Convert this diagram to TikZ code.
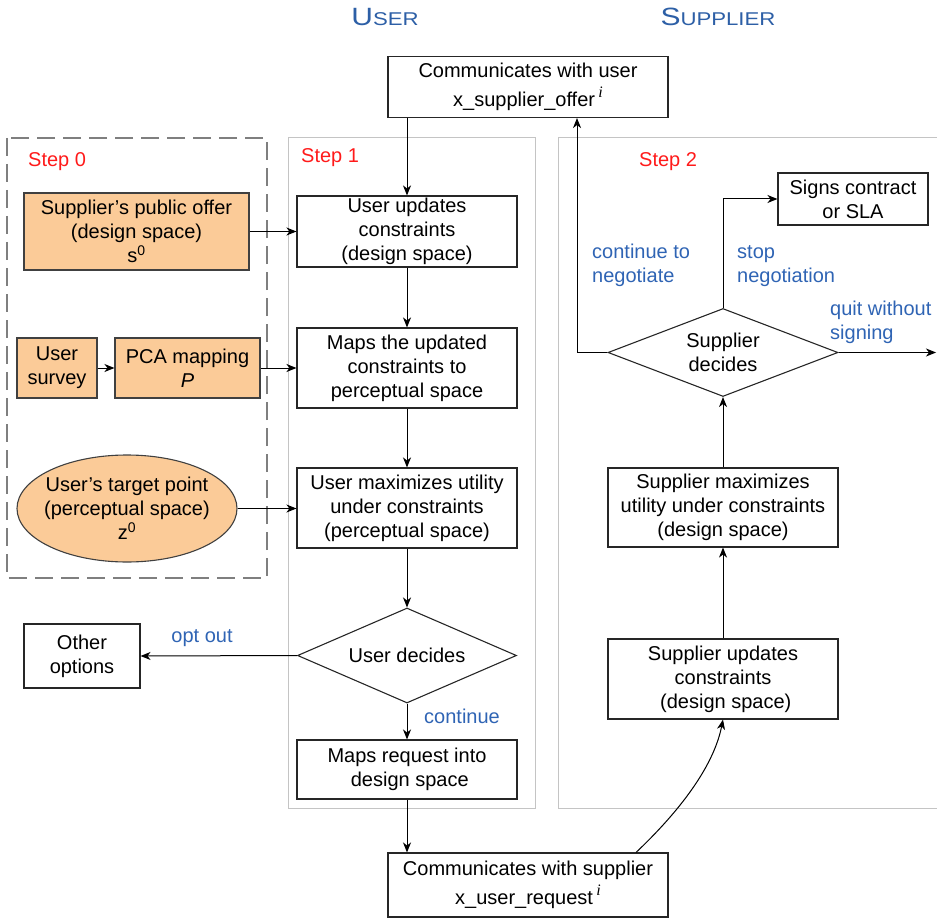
\documentclass[tikz,border=0pt]{standalone}
\usepackage{fontspec}
\setmainfont{Liberation Sans}
\newfontfamily\headfont[FakeStretch=1.2]{Liberation Sans}
\newfontfamily\idxfont{Liberation Serif}
\usetikzlibrary{arrows.meta,shapes.geometric}

\definecolor{peach}{HTML}{FBCB98}
\definecolor{labelblue}{HTML}{2F64B4}
\definecolor{headblue}{HTML}{2D5FA6}
\definecolor{framegray}{HTML}{C4C4C4}
\definecolor{dashgray}{HTML}{7F7F7F}
\definecolor{stepred}{HTML}{FF1A1A}

% small-caps style heading: one large capital followed by smaller capitals
\newcommand\hdcaps[2]{{\fontsize{25}{25}\selectfont #1}{\fontsize{18.5}{18.5}\selectfont #2}}
% italic round index written after a message name
\newcommand\roundidx{\,\raisebox{9pt}{\idxfont\itshape\fontsize{16}{16}\selectfont i}}

\tikzset{
  base/.style={font=\fontsize{20}{24}\selectfont, align=center, inner sep=0pt},
  box/.style={base, rectangle, draw=black!85, line width=1.1pt},
  inputbox/.style={box, fill=peach, draw=black!75},
  decision/.style={base, diamond, aspect=2.6, draw=black!85, line width=1.1pt},
  arrow/.style={-{Stealth[length=10pt,width=8pt,inset=3pt]}, line width=1pt},
  branch/.style={font=\fontsize{20}{24}\selectfont, text=labelblue, align=left, inner sep=0pt},
  steplabel/.style={font=\fontsize{20}{24}\selectfont, text=stepred, inner sep=0pt},
  stepframe/.style={draw=framegray, line width=1pt},
}

\begin{document}
\begin{tikzpicture}[x=1pt,y=-1pt]
\useasboundingbox (0,0) rectangle (937,920);

% column headings
\node[text=headblue, inner sep=0pt] (huser) at (385,17) {\headfont\hdcaps{U}{SER}};
\node[text=headblue, inner sep=0pt] (hsupp) at (718,17) {\headfont\hdcaps{S}{UPPLIER}};

% step frames
\draw[dashgray, line width=1.3pt, dash pattern=on 18pt off 8pt] (7,138) rectangle (267,578);
\draw[stepframe] (288,138) rectangle (535,808);
\draw[stepframe] (937,138) -| (558,808) -- (937,808);

\node[steplabel, anchor=west] (step0) at (28,162) {Step 0};
\node[steplabel, anchor=west] (step1) at (301,158) {Step 1};
\node[steplabel, anchor=west] (step2) at (639,162) {Step 2};

% exchanged messages
\node[box, minimum width=280, minimum height=61] (offer) at (528,87)
  {Communicates with user\\[5pt]x\_supplier\_offer\roundidx};
\node[box, minimum width=280, minimum height=64] (req) at (528,885)
  {Communicates with supplier\\[5pt]x\_user\_request\roundidx};

% step 0 inputs
\node[inputbox, minimum width=225, minimum height=77] (pub) at (136.5,231.5)
  {Supplier’s public offer\\(design space)\\s\textsuperscript{0}};
\node[inputbox, minimum width=80, minimum height=60] (survey) at (57,368)
  {User\\survey};
\node[inputbox, minimum width=145, minimum height=60] (pca) at (187.5,368)
  {PCA mapping\\\textit{P}};
\node[base, ellipse, fill=peach, draw=black!75, line width=1.1pt,
      inner xsep=-20pt, inner ysep=0pt, minimum width=220, minimum height=107] (target) at (127,508.5)
  {User’s target point\\(perceptual space)\\z\textsuperscript{0}};

% step 1: user side
\node[box, minimum width=220, minimum height=71] (uupd) at (407,231.5)
  {User updates\\constraints\\(design space)};
\node[box, minimum width=220, minimum height=80] (umap) at (407,368)
  {Maps the updated\\constraints to\\perceptual space};
\node[box, minimum width=220, minimum height=80] (umax) at (407,508)
  {User maximizes utility\\under constraints\\(perceptual space)};
\node[decision, minimum width=219, minimum height=95] (udec) at (407,655.5)
  {User decides};
\node[box, minimum width=220, minimum height=59] (ureq) at (407,769.5)
  {Maps request into\\\ design space};
\node[box, minimum width=116, minimum height=64] (other) at (82,656)
  {Other\\options};

% step 2: supplier side
\node[box, minimum width=230, minimum height=80] (supd) at (723,679)
  {Supplier updates\\constraints\\\ (design space)};
\node[box, minimum width=230, minimum height=79] (smax) at (723,507.5)
  {Supplier maximizes\\utility under constraints\\(design space)};
\node[decision, minimum width=230, minimum height=88] (sdec) at (723,352.5)
  {Supplier\\decides};
\node[box, minimum width=150, minimum height=52] (sign) at (853,199)
  {Signs contract\\or SLA};

% connectors: inputs into step 1
\draw[arrow] (pub.east) -- (pub.east -| uupd.west);
\draw[arrow] (survey) -- (pca);
\draw[arrow] (pca.east) -- (pca.east -| umap.west);
\draw[arrow] (target.east) -- (target.east -| umax.west);

% connectors: user flow
\draw[arrow] (uupd.north |- offer.south) -- (uupd.north);
\draw[arrow] (uupd) -- (umap);
\draw[arrow] (umap) -- (umax);
\draw[arrow] (umax) -- (udec);
\draw[arrow] (udec.west) -- (other.east);
\draw[arrow] (udec) -- (ureq);
\draw[arrow] (ureq.south) -- (ureq.south |- req.north);

% connectors: supplier flow
\coordinate (reqout) at ([xshift=108pt]req.north);
\draw[arrow] (reqout) .. controls (665,825) and (712,775) .. (supd.south);
\draw[arrow] (supd) -- (smax);
\draw[arrow] (smax) -- (sdec);
\draw[arrow] (sdec.north) |- (sign.west);
\coordinate (quitend) at (936,352.5);
\draw[arrow] (sdec.east) -- (quitend);
\coordinate (loop) at (577,352.5);
\draw[arrow] (sdec.west) -- (loop) -- (loop |- offer.south);

% branch labels
\node[branch] (lopt) at (202,638) {opt out};
\node[branch, anchor=west] (lcont) at (424,716) {continue};
\node[branch, anchor=west] (lneg) at (592,265) {continue to\\negotiate};
\node[branch, anchor=west] (lstop) at (737,266) {stop\\negotiation};
\node[branch, anchor=west] (lquit) at (830,322.5) {quit without\\signing};
\end{tikzpicture}
\end{document}
